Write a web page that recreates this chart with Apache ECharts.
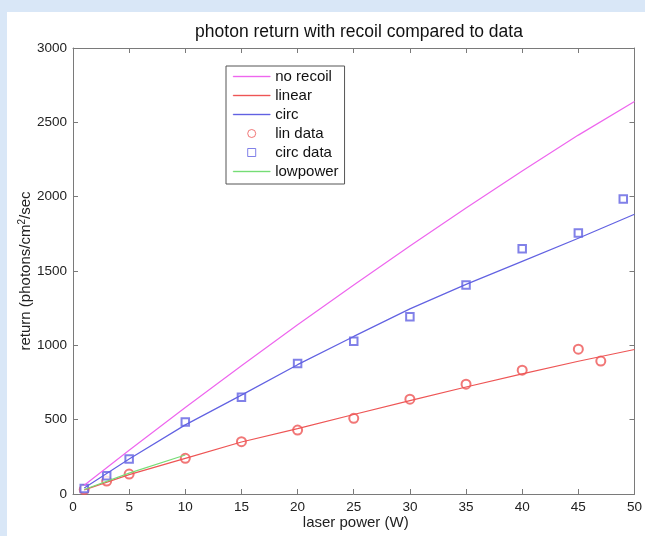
<!DOCTYPE html>
<html>
<head>
<meta charset="utf-8">
<script src="https://cdn.jsdelivr.net/npm/echarts@6/dist/echarts.min.js"></script>
<style>
  html, body { margin: 0; padding: 0; background: #d9e7f7; }
  #chart { width: 645px; height: 536px; }
</style>
</head>
<body>
<div id="chart"></div>
<script>
// ---- data ----
const fitPower      = [1, 5, 10, 15, 20, 25, 30, 35, 40, 45, 50];
const noRecoil      = [59, 294, 582, 862, 1138, 1406, 1668, 1923, 2172, 2414, 2640];
const linearFit     = [28, 130, 240, 350, 440, 535, 628, 720, 808, 893, 972];
const circFit       = [40, 235, 465, 665, 870, 1060, 1245, 1410, 1565, 1720, 1882];

const linDataPower  = [1, 3, 5, 10, 15, 20, 25, 30, 35, 40, 45, 47];
const linData       = [30, 87, 134, 240, 352, 430, 509, 638, 739, 833, 974, 894];

const circDataPower = [1, 3, 5, 10, 15, 20, 25, 30, 35, 40, 45, 49];
const circData      = [37, 123, 235, 484, 650, 878, 1028, 1192, 1405, 1649, 1756, 1984];

const lowPowerPower = [1, 5, 10];
const lowPower      = [30, 140, 262];

const seriesNames = ['no recoil', 'linear', 'circ', 'lin data', 'circ data', 'lowpower'];
const titleText = 'photon return with recoil compared to data';
const xName = 'laser power (W)';

const zip = (xs, ys) => xs.map((x, i) => [x, ys[i]]);

const FONT = '"Liberation Sans", Arial, Helvetica, sans-serif';
const AX = '#7a7a7a';
const C = { mag: '#ee66ee', red: '#ee5555', blue: '#6262e2', green: '#77dd77' };

const LINE_ICON = 'path://M0,0H37V1H0Z';
const SQUARE_ICON = 'path://M0,0H10V10H0Z';

const lineLegend = (name, color) => ({
  name, icon: LINE_ICON,
  itemStyle: { color: color, borderColor: color, borderWidth: 0.4 }
});

const baseX = {
  type: 'value', min: 0, max: 50, interval: 5,
  axisLine: { show: true, onZero: false, lineStyle: { color: AX, width: 1 } },
  axisTick: { show: true, inside: true, length: 5, lineStyle: { color: AX } },
  splitLine: { show: false }
};
const baseY = {
  type: 'value', min: 0, max: 3000, interval: 500,
  axisLine: { show: true, onZero: false, lineStyle: { color: AX, width: 1 } },
  axisTick: { show: true, inside: true, length: 5, lineStyle: { color: AX } },
  splitLine: { show: false }
};

const chart = echarts.init(document.getElementById('chart'), null, { renderer: 'canvas' });
chart.setOption({
  backgroundColor: 'transparent',
  animation: false,
  textStyle: { fontFamily: FONT },
  graphic: [{
    type: 'rect', z: -10, silent: true,
    shape: { x: 7, y: 12, width: 645, height: 536 },
    style: { fill: '#ffffff' }
  }],
  title: {
    text: titleText, left: 354, top: 18, textAlign: 'center',
    textStyle: { fontFamily: FONT, fontSize: 17.5, fontWeight: 'normal', color: '#111' }
  },
  grid: { left: 73, right: 6, top: 48, bottom: 42, containLabel: false },
  xAxis: [
    Object.assign({}, baseX, {
      position: 'bottom',
      name: xName, nameLocation: 'middle', nameGap: 21, nameMoveOverlap: false,
      nameTextStyle: { fontFamily: FONT, fontSize: 15, color: '#222', padding: [0, 0, 0, 4] },
      axisLabel: { show: true, fontFamily: FONT, fontSize: 13.5, color: '#222', margin: 6,
                   formatter: v => String(v) }
    }),
    Object.assign({}, baseX, { position: 'top', axisLabel: { show: false } })
  ],
  yAxis: [
    Object.assign({}, baseY, {
      position: 'left',
      name: 'return (photons/cm{sup|2}/sec', nameLocation: 'middle', nameGap: 38, nameRotate: 90,
      nameMoveOverlap: false,
      nameTextStyle: {
        fontFamily: FONT, fontSize: 15, color: '#222',
        rich: { sup: { fontFamily: FONT, fontSize: 10, color: '#222', padding: [0, 0, 8, 0] } }
      },
      axisLabel: { show: true, fontFamily: FONT, fontSize: 13.5, color: '#222', margin: 6,
                   formatter: v => String(v) }
    }),
    Object.assign({}, baseY, { position: 'right', axisLabel: { show: false } })
  ],
  legend: {
    orient: 'vertical', left: 226, top: 66,
    padding: [3, 6, 5, 7], itemGap: 4, itemWidth: 37, itemHeight: 8,
    backgroundColor: '#ffffff', borderColor: '#555', borderWidth: 1, borderRadius: 0,
    textStyle: { fontFamily: FONT, fontSize: 15, color: '#111' },
    data: [
      lineLegend(seriesNames[0], C.mag),
      lineLegend(seriesNames[1], C.red),
      lineLegend(seriesNames[2], C.blue),
      { name: seriesNames[3], icon: 'circle',
        itemStyle: { color: '#ffffff', borderColor: C.red, borderWidth: 1 } },
      { name: seriesNames[4], icon: SQUARE_ICON, itemHeight: 7,
        itemStyle: { color: '#ffffff', borderColor: C.blue, borderWidth: 1 } },
      lineLegend(seriesNames[5], C.green)
    ]
  },
  series: [
    { name: seriesNames[0], type: 'line', data: zip(fitPower, noRecoil), symbol: 'none',
      lineStyle: { color: C.mag, width: 1.2 }, itemStyle: { color: C.mag } },
    { name: seriesNames[1], type: 'line', data: zip(fitPower, linearFit), symbol: 'none',
      lineStyle: { color: C.red, width: 1.2 }, itemStyle: { color: C.red } },
    { name: seriesNames[2], type: 'line', data: zip(fitPower, circFit), symbol: 'none',
      lineStyle: { color: C.blue, width: 1.2 }, itemStyle: { color: C.blue } },
    { name: seriesNames[3], type: 'scatter', data: zip(linDataPower, linData),
      symbol: 'emptyCircle', symbolSize: 9,
      itemStyle: { color: C.red, borderColor: C.red, borderWidth: 1 } },
    { name: seriesNames[4], type: 'scatter', data: zip(circDataPower, circData),
      symbol: 'emptyRect', symbolSize: 7.5,
      itemStyle: { color: C.blue, borderColor: C.blue, borderWidth: 1 } },
    { name: seriesNames[5], type: 'line', data: zip(lowPowerPower, lowPower), symbol: 'none',
      lineStyle: { color: C.green, width: 1.2 }, itemStyle: { color: C.green } }
  ]
});
</script>
</body>
</html>
